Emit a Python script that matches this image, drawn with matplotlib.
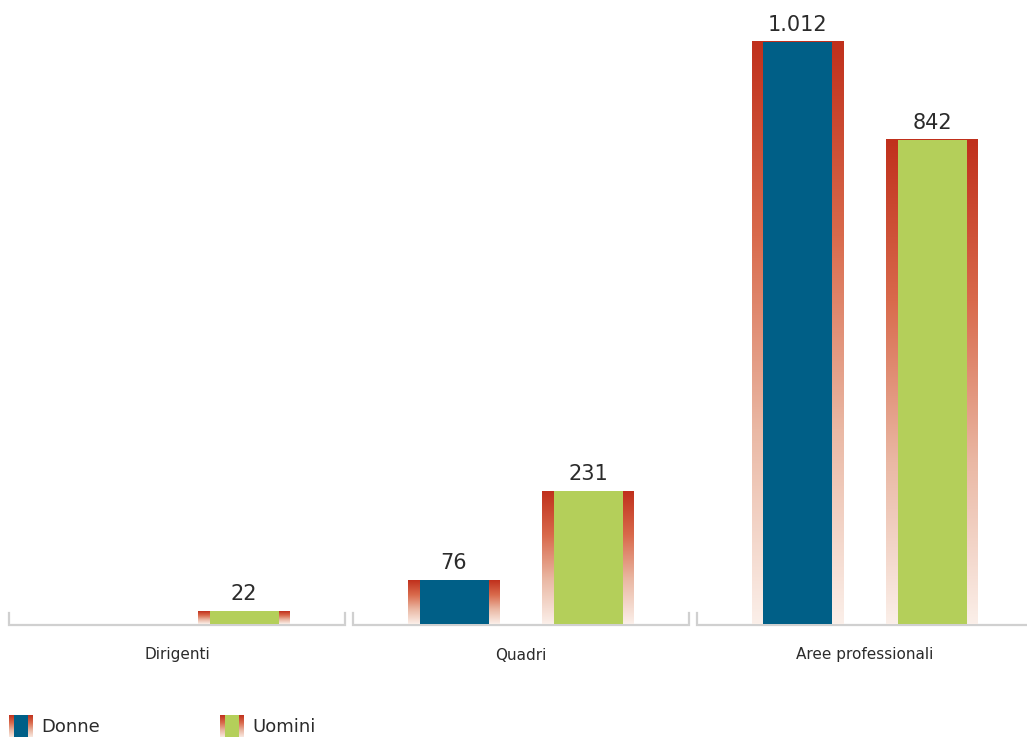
import numpy as np
import matplotlib
matplotlib.use("Agg")
import matplotlib.pyplot as plt
from matplotlib.colors import LinearSegmentedColormap
from matplotlib.patches import Rectangle

# Data
categories = ["Dirigenti", "Quadri", "Aree professionali"]
donne = [0, 76, 1012]
uomini = [22, 231, 842]
value_labels_donne = ["", "76", "1.012"]
value_labels_uomini = ["22", "231", "842"]
series_names = ["Donne", "Uomini"]

# Style
col_donne = "#005f87"
col_uomini = "#b4cf5a"
edge_cmap = LinearSegmentedColormap.from_list(
    "edge", ["#fbefe9", "#eab8a4", "#d96a4c", "#c0301c"])
axis_col = "#d0d0d0"
text_col = "#2b2b2b"

W, H = 1027, 737
fig = plt.figure(figsize=(W / 100, H / 100), dpi=100)
fig.patch.set_facecolor("white")

# main plotting axes: baseline at 624 px from top
base_px = 624
left_px = 5
ax = fig.add_axes([left_px / W, (H - base_px) / H, (W - left_px) / W, base_px / H])
px_per_unit_x = 344.0
ymax = 1012 * base_px / 582.0
xlim = (-0.5, -0.5 + (W - left_px) / px_per_unit_x)
ax.set_xlim(*xlim)
ax.set_ylim(0, ymax)
ax.axis("off")

outer_w = 92 / px_per_unit_x
inner_w = 69 / px_per_unit_x
offset = 67 / px_per_unit_x
grad = np.linspace(0, 1, 256).reshape(-1, 1)


def draw_bar(xc, h, color):
    if h <= 0:
        return
    ax.imshow(grad, extent=[xc - outer_w / 2, xc + outer_w / 2, 0, h],
              origin="lower", cmap=edge_cmap, aspect="auto", zorder=2,
              interpolation="bilinear")
    ax.add_patch(Rectangle((xc - inner_w / 2, 0), inner_w, h,
                           facecolor=color, edgecolor="none", zorder=3))


unit_y = ymax / base_px  # data units per pixel
for i, cat in enumerate(categories):
    # category axis segment with end ticks
    gap = 4 / px_per_unit_x
    x0, x1 = i - 0.5 + gap, i + 0.5 - gap
    tick_h = 11 * unit_y
    ax.plot([x0, x0, x1, x1], [tick_h, -0.5 * unit_y, -0.5 * unit_y, tick_h],
            color=axis_col, lw=1.6, zorder=1, clip_on=False,
            solid_joinstyle="miter")
    ax.text(i, -31 * unit_y, cat, ha="center", va="center", fontsize=11,
            color=text_col, clip_on=False)

    for xc, v, lab, c in [(i - offset, donne[i], value_labels_donne[i], col_donne),
                          (i + offset, uomini[i], value_labels_uomini[i], col_uomini)]:
        draw_bar(xc, v, c)
        if v > 0:
            ax.text(xc, v + 7 * unit_y, lab, ha="center", va="bottom",
                    fontsize=15, color=text_col, zorder=4)

ax.set_xlim(*xlim)
ax.set_ylim(0, ymax)

# legend drawn in pixel coordinates
lax = fig.add_axes([0, 0, 1, 1])
lax.set_xlim(0, W)
lax.set_ylim(H, 0)
lax.axis("off")
for x_icon, name, c in [(9, series_names[0], col_donne), (220, series_names[1], col_uomini)]:
    lax.imshow(grad, extent=[x_icon, x_icon + 24, 738, 715], origin="lower",
               cmap=edge_cmap, aspect="auto", interpolation="bilinear")
    lax.add_patch(Rectangle((x_icon + 5, 715), 14, 23, facecolor=c, edgecolor="none"))
    lax.text(x_icon + 32, 727, name, ha="left", va="center", fontsize=13,
             color=text_col)
lax.set_xlim(0, W)
lax.set_ylim(H, 0)

fig.savefig("out.png", dpi=100, facecolor="white")
